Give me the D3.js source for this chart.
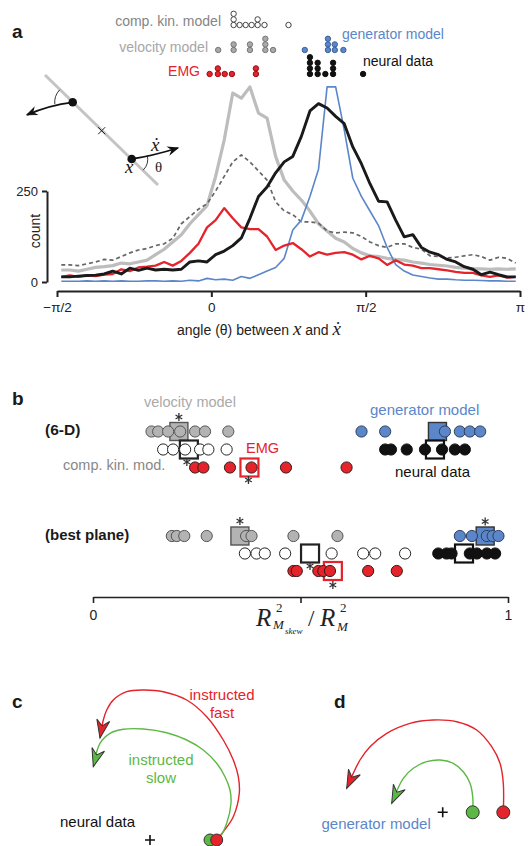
<!DOCTYPE html>
<html lang="en">
<head>
<meta charset="UTF-8">
<title>Rotational structure figure</title>
<script src="https://d3js.org/d3.v7.min.js"></script>
<style>
  body{margin:0;background:#fff;font-family:"Liberation Sans",Arial,sans-serif;}
  svg{display:block;}
</style>
</head>
<body>
<svg width="528" height="846"></svg>
<script>
// ---------------- data: panel a histogram (angle bins in degrees, counts)
const binCenters = [-87.5,-82.5,-77.5,-72.5,-67.5,-62.5,-57.5,-52.5,-47.5,-42.5,-37.5,-32.5,-27.5,-22.5,
  -17.5,-12.5,-7.5,-2.5,2.5,7.5,12.5,17.5,22.5,27.5,32.5,37.5,42.5,47.5,52.5,57.5,62.5,67.5,72.5,77.5,
  82.5,87.5,92.5,97.5,102.5,107.5,112.5,117.5,122.5,127.5,132.5,137.5,142.5,147.5,152.5,157.5,162.5,
  167.5,172.5,177.5];
const velocityCounts = [33,33,30,35,40,42,45,52,50,55,60,75,90,110,130,160,185,210,290,390,519,505,536,464,
  450,345,280,250,225,195,160,140,120,110,92,80,72,70,65,62,60,55,52,48,46,44,40,38,36,36,35,36,35,36];
const compKinCounts = [47,47,45,50,55,62,60,70,80,88,92,100,105,120,160,180,200,215,250,290,330,349,330,305,
  280,220,195,185,165,165,162,140,135,137,135,125,110,100,95,105,105,95,90,72,70,66,68,72,75,70,60,68,65,52];
const emgCounts = [14,18,14,18,16,20,22,35,30,40,42,45,55,45,58,80,105,150,170,203,175,150,145,145,125,88,
  100,107,90,70,82,75,80,82,75,62,72,65,47,60,48,45,38,38,35,32,28,25,25,18,14,18,12,14];
const neuralCounts = [14,14,16,18,19,22,30,22,38,32,38,33,35,33,35,55,58,55,75,85,100,121,175,235,261,300,
  330,345,400,470,490,478,455,435,371,325,270,222,220,170,124,130,95,82,75,62,55,42,35,20,27,20,14,14];
const generatorCounts = [2,2,2,3,2,3,2,3,2,2,3,3,2,3,2,5,3,10,6,8,5,15,10,20,30,40,65,143,170,235,310,536,
  536,418,285,235,195,155,95,48,30,19,15,11,8,8,6,5,5,4,3,3,2,2];
const angleTickValues = [-90, 0, 90, 180];
const angleTickLabels = ["\u2212\u03c0/2", "0", "\u03c0/2", "\u03c0"];
const countTicks = [0, 250];

// preferred angle of each dataset (degrees), stacked when equal
const compKinPeaks = [13,13,13,16.5,20,23.5,27,27,31,45];
const velocityPeaks = [4,13,13,22.5,22.5,31.5,31.5,31.5,36];
const emgPeaks = [-1,3.8,3.8,7.8,12,26,26];
const generatorPeaks = [54.5,68,68,68,72,72,77];
const neuralPeaks = [57.5,57.5,57.5,57.5,62,62,62,66.5,71,71,71,88.5];

// ---------------- data: panel b, R2(Mskew)/R2(M) per dataset
const vel6D = [0.141,0.157,0.181,0.210,0.246,0.270,0.326];
const ck6D = [0.169,0.193,0.222,0.258,0.278,0.322];
const emg6D = [0.246,0.266,0.330,0.382,0.465,0.611];
const gen6D = [0.647,0.704,0.848,0.884,0.908,0.933];
const neu6D = [0.704,0.718,0.756,0.800,0.841,0.872,0.896];
const velBest = [0.190,0.202,0.220,0.274,0.369,0.382,0.483,0.589];
const ckBest = [0.366,0.394,0.414,0.463,0.575,0.651,0.680,0.752];
const emgBest = [0.483,0.491,0.543,0.555,0.571,0.663,0.732];
const genBest = [0.884,0.913,0.949,0.963,0.977];
const neuBest = [0.832,0.852,0.864,0.908,0.925,0.949,0.969];
const means6D = {vel:0.207, ck:0.231, emg:0.377, gen:0.830, neu:0.824};
const meansBest = {vel:0.354, ck:0.523, emg:0.578, gen:0.945, neu:0.894};
const ratioTicks = [0, 0.5, 1];

// ---------------- data: panels c, d (state-space trajectories, y up)
const fastNeural = [[6.67,0],[7.33,0.83],[8.33,2.33],[8.93,4.67],[8.83,6.33],[8.33,8.0],[7.33,10.0],
  [5.67,12.33],[3.67,14.0],[1.33,14.83],[-0.67,15.0],[-2.33,14.83],[-3.67,14.0],[-4.33,13.0],[-4.67,12.0],[-5.0,10.2]];
const slowNeural = [[6.5,0.2],[7.0,0.33],[7.67,1.67],[8.1,3.67],[8.0,5.0],[7.5,6.33],[6.67,7.67],[5.33,9.0],
  [3.67,10.0],[1.67,10.73],[-0.67,11.1],[-2.67,11.07],[-4.0,10.67],[-5.0,9.67],[-5.67,7.33]];
const fastGen = [[6.06,0],[6.06,2.9],[5.73,4.9],[4.9,6.56],[3.4,8.23],[1.4,9.06],[-0.94,9.23],[-3.27,8.9],
  [-5.6,7.9],[-7.27,6.56],[-8.27,5.23],[-9.6,2.4]];
const slowGen = [[3.0,0],[3.0,1.56],[2.73,2.9],[2.06,4.06],[1.06,4.9],[-0.27,5.23],[-1.6,5.06],[-2.94,4.4],
  [-3.94,3.4],[-5.1,0.9]];

const RED = "#e4232b", BLUE = "#5b86c9", GREEN = "#5cb845", LGREY = "#bdbdbd", INK = "#1a1a1a";
const SANS = "'Liberation Sans', Arial, sans-serif", SERIF = "'Liberation Serif', 'Times New Roman', serif";
const svg = d3.select("svg");

function label(x, y, txt, opts = {}) {
  return svg.append("text").attr("x", x).attr("y", y).text(txt)
    .attr("font-family", opts.family || SANS).attr("font-size", opts.size || 14)
    .attr("font-weight", opts.weight || null).attr("font-style", opts.style || null)
    .attr("fill", opts.color || INK).attr("text-anchor", opts.anchor || "start");
}

// ================= panel a
label(12, 38, "a", {size: 19, weight: "bold"});

const xA = d3.scaleLinear().domain([-90, 180]).range([57, 520]);
const yA = d3.scaleLinear().domain([0, 250]).range([282, 191]);

// dot rows
function dotRow(vals, baseY, fill, stroke) {
  const pts = [];
  d3.rollups(vals, v => v.length, d => d).forEach(([a, n]) => {
    for (let k = 0; k < n; k++) pts.push({a, k});
  });
  svg.append("g").selectAll("circle").data(pts).join("circle")
    .attr("cx", d => xA(d.a)).attr("cy", d => baseY - d.k * 5.6).attr("r", 2.7)
    .attr("fill", fill).attr("stroke", stroke).attr("stroke-width", 1);
}
dotRow(compKinPeaks, 25, "#fff", "#444");
dotRow(velocityPeaks, 50, "#a9a9a9", "#777");
dotRow(emgPeaks, 74, RED, "#9a1015");
dotRow(generatorPeaks, 50, BLUE, "#3d629c");
dotRow(neuralPeaks, 74, "#111", "#111");
label(221, 25.5, "comp. kin. model", {color: "#858585", anchor: "end"});
label(208, 51.5, "velocity model", {color: "#a6a6a6", anchor: "end"});
label(200, 76, "EMG", {color: RED, anchor: "end"});
label(342, 38.5, "generator model", {color: BLUE});
label(363, 66, "neural data", {color: "#111"});

// lever diagram
const rod = [[45, 75], [158, 185]];
const massA = [72.7, 102.3], massB = [131.7, 159], pivot = [101.7, 130.7];
const gd = svg.append("g");
gd.append("line").attr("x1", rod[0][0]).attr("y1", rod[0][1]).attr("x2", rod[1][0]).attr("y2", rod[1][1])
  .attr("stroke", "#c4c4c4").attr("stroke-width", 3);
gd.append("path").attr("d", `M${pivot[0]-3.5},${pivot[1]-3.5}L${pivot[0]+3.5},${pivot[1]+3.5}M${pivot[0]+3.5},${pivot[1]-3.5}L${pivot[0]-3.5},${pivot[1]+3.5}`)
  .attr("stroke", "#222").attr("stroke-width", 1);

function head(g, from, to, L, W, fill, stroke) {
  const ang = Math.atan2(to[1] - from[1], to[0] - from[0]) * 180 / Math.PI;
  g.append("path").attr("d", `M0,0L${-L},${-W}L${-0.68 * L},0L${-L},${W}Z`)
    .attr("transform", `translate(${to[0]},${to[1]}) rotate(${ang})`)
    .attr("fill", fill).attr("stroke", stroke).attr("stroke-width", 1).attr("stroke-linejoin", "miter");
}
const arrA = {p0: massA, c: [49.5, 105], p1: [27, 114.8]};
const arrB = {p0: massB, c: [152, 156], p1: [178, 148]};
[arrA, arrB].forEach(a => {
  const p = d3.path(); p.moveTo(...a.p0); p.quadraticCurveTo(...a.c, ...a.p1);
  gd.append("path").attr("d", p.toString()).attr("fill", "none").attr("stroke", "#111").attr("stroke-width", 1.8);
  head(gd, a.c, a.p1, 9, 3.6, "#111", "#111");
});
const deg = Math.PI / 180;
const arc1 = d3.path(); arc1.arc(massA[0], massA[1], 18, 174 * deg, 224 * deg, false);
const arc2 = d3.path(); arc2.arc(massB[0], massB[1], 16, -14 * deg, 44 * deg, false);
[arc1, arc2].forEach(p => {
  gd.append("path").attr("d", p.toString()).attr("fill", "none").attr("stroke", "#222").attr("stroke-width", 0.9);
});
[massA, massB].forEach(m => gd.append("circle").attr("cx", m[0]).attr("cy", m[1]).attr("r", 4.3).attr("fill", "#111"));
label(125, 173, "x", {family: SERIF, style: "italic", size: 19});
label(151, 151, "\u1e8b", {family: SERIF, style: "italic", size: 19});
label(155, 172, "\u03b8", {family: SERIF, size: 15});

// histogram curves
const histLine = d3.line().x((d, i) => xA(binCenters[i])).y(d => yA(d));
const series = [
  {vals: velocityCounts, color: LGREY, w: 3.2},
  {vals: compKinCounts, color: "#666", w: 1.7, dash: "4,3"},
  {vals: generatorCounts, color: BLUE, w: 1.6},
  {vals: emgCounts, color: RED, w: 2.3},
  {vals: neuralCounts, color: INK, w: 2.9}
];
svg.append("g").selectAll("path").data(series).join("path")
  .attr("d", d => histLine(d.vals)).attr("fill", "none")
  .attr("stroke", d => d.color).attr("stroke-width", d => d.w)
  .attr("stroke-dasharray", d => d.dash || null).attr("stroke-linejoin", "round");

function styleAxis(g, size) {
  g.attr("font-family", SANS).attr("font-size", size);
  g.selectAll("path, line").attr("stroke", "#222").attr("stroke-width", 2);
  g.selectAll("text").attr("fill", "#222");
}
const yAxisA = svg.append("g").attr("transform", "translate(47,0)")
  .call(d3.axisLeft(yA).tickValues(countTicks).tickSizeInner(5).tickSizeOuter(0).tickPadding(4));
styleAxis(yAxisA, 13);
const xAxisA = svg.append("g").attr("transform", "translate(0,291)")
  .call(d3.axisBottom(xA).tickValues(angleTickValues).tickFormat((d, i) => angleTickLabels[i])
    .tickSizeInner(6).tickSizeOuter(0).tickPadding(5));
styleAxis(xAxisA, 13.5);
svg.append("text").attr("transform", "translate(39.5,231) rotate(-90)").attr("text-anchor", "middle")
  .attr("font-family", SANS).attr("font-size", 14).attr("fill", "#222").text("count");

const titleA = svg.append("text").attr("x", 177).attr("y", 335).attr("font-family", SANS)
  .attr("font-size", 14).attr("fill", "#222");
titleA.append("tspan").text("angle (\u03b8) between ");
titleA.append("tspan").attr("font-family", SERIF).attr("font-style", "italic").attr("font-size", 19).text("x");
titleA.append("tspan").text(" and ");
titleA.append("tspan").attr("font-family", SERIF).attr("font-style", "italic").attr("font-size", 19).text("\u1e8b");

// ================= panel b
label(12, 405, "b", {size: 19, weight: "bold"});
const xB = d3.scaleLinear().domain([0, 1]).range([93, 508]);
const groups = [
  {vals: vel6D, mean: means6D.vel, y: 431.5, fill: "#b3b3b3", stroke: "#555", sqFill: "#b3b3b3", sqStroke: "#555", star: [0, -14.5]},
  {vals: ck6D, mean: means6D.ck, y: 449.5, fill: "#fff", stroke: "#222", sqFill: "#fff", sqStroke: "#222", star: [-2, 12.5]},
  {vals: emg6D, mean: means6D.emg, y: 467.5, fill: RED, stroke: "#3a1a1a", sqFill: "#fff", sqStroke: RED, star: [-1, 12.5]},
  {vals: gen6D, mean: means6D.gen, y: 431.5, fill: BLUE, stroke: "#2e3f5c", sqFill: BLUE, sqStroke: "#333", star: null},
  {vals: neu6D, mean: means6D.neu, y: 449.5, fill: "#111", stroke: "#111", sqFill: "#fff", sqStroke: "#111", star: null},
  {vals: velBest, mean: meansBest.vel, y: 536, fill: "#b3b3b3", stroke: "#555", sqFill: "#b3b3b3", sqStroke: "#555", star: [0, -15]},
  {vals: ckBest, mean: meansBest.ck, y: 553.5, fill: "#fff", stroke: "#222", sqFill: "#fff", sqStroke: "#222", star: [0, 12.5]},
  {vals: emgBest, mean: meansBest.emg, y: 571, fill: RED, stroke: "#3a1a1a", sqFill: "#fff", sqStroke: RED, star: [0, 14]},
  {vals: genBest, mean: meansBest.gen, y: 536, fill: BLUE, stroke: "#2e3f5c", sqFill: BLUE, sqStroke: "#333", star: [0, -14.5]},
  {vals: neuBest, mean: meansBest.neu, y: 553.5, fill: "#111", stroke: "#111", sqFill: "#fff", sqStroke: "#111", star: null}
];
const gb = svg.append("g");
groups.forEach(gr => {
  gb.append("rect").attr("x", xB(gr.mean) - 9).attr("y", gr.y - 9).attr("width", 18).attr("height", 18)
    .attr("fill", gr.sqFill).attr("stroke", gr.sqStroke).attr("stroke-width", gr.sqFill === "#fff" ? 2.2 : 1.4);
});
groups.forEach(gr => {
  gb.append("g").selectAll("circle").data(gr.vals).join("circle")
    .attr("cx", d => xB(d)).attr("cy", gr.y).attr("r", 5.6)
    .attr("fill", gr.fill).attr("stroke", gr.stroke).attr("stroke-width", 1);
});
const star = d3.symbol(d3.symbolAsterisk, 42);
groups.filter(g => g.star !== null).forEach(gr => {
  gb.append("path").attr("d", star())
    .attr("transform", `translate(${xB(gr.mean) + gr.star[0]},${gr.y + gr.star[1]})`)
    .attr("fill", "none").attr("stroke", "#333").attr("stroke-width", 1.3);
});
label(144, 406.5, "velocity model", {color: "#aaa", size: 14.5});
label(45, 435, "(6-D)", {size: 15.5, weight: "bold"});
label(370, 415, "generator model", {color: BLUE, size: 15});
label(246, 453, "EMG", {color: RED, size: 14.5});
label(63, 470, "comp. kin. mod.", {color: "#888", size: 14.5});
label(395, 477, "neural data", {color: "#111", size: 15});
label(45, 540, "(best plane)", {size: 15, weight: "bold"});

const xAxisB = svg.append("g").attr("transform", "translate(0,597)")
  .call(d3.axisBottom(xB).tickValues(ratioTicks).tickFormat(d => d === 0.5 ? "" : d3.format("d")(d))
    .tickSizeInner(6).tickSizeOuter(0).tickPadding(7));
styleAxis(xAxisB, 14);
xAxisB.selectAll("path, line").attr("stroke-width", 1.6);

// R^2_{M_skew} / R^2_M
const titleB = svg.append("text").attr("font-family", SERIF).attr("font-style", "italic").attr("fill", "#222");
titleB.append("tspan").attr("x", 256).attr("y", 626).attr("font-size", 25).text("R");
titleB.append("tspan").attr("x", 276).attr("y", 612).attr("font-size", 13).attr("font-style", "normal").text("2");
titleB.append("tspan").attr("x", 273).attr("y", 629).attr("font-size", 13).text("M");
titleB.append("tspan").attr("x", 285).attr("y", 634).attr("font-size", 9).text("skew");
titleB.append("tspan").attr("x", 308).attr("y", 626).attr("font-size", 23).attr("font-style", "normal").text("/");
titleB.append("tspan").attr("x", 320).attr("y", 626).attr("font-size", 25).text("R");
titleB.append("tspan").attr("x", 340).attr("y", 612).attr("font-size", 13).attr("font-style", "normal").text("2");
titleB.append("tspan").attr("x", 337).attr("y", 631).attr("font-size", 13).text("M");

// ================= panels c, d
function trajPanel(origin, trajs, dots, dotR) {
  const xs = d3.scaleLinear().domain([0, 1]).range([origin[0], origin[0] + 10]);
  const ys = d3.scaleLinear().domain([0, 1]).range([origin[1], origin[1] - 10]);
  const g = svg.append("g");
  const ln = d3.line().x(d => xs(d[0])).y(d => ys(d[1])).curve(d3.curveCatmullRom);
  trajs.forEach(t => {
    g.append("path").attr("d", ln(t.pts)).attr("fill", "none").attr("stroke", t.color).attr("stroke-width", 1.4);
    const n = t.pts.length;
    head(g, [xs(t.pts[n - 2][0]), ys(t.pts[n - 2][1])], [xs(t.pts[n - 1][0]), ys(t.pts[n - 1][1])], 18, 6.5, t.color, "#333");
  });
  g.append("path").attr("d", `M${xs(0) - 5},${ys(0)}H${xs(0) + 5}M${xs(0)},${ys(0) - 5}V${ys(0) + 5}`)
    .attr("stroke", "#111").attr("stroke-width", 1.6);
  dots.forEach(d => g.append("circle").attr("cx", xs(d.x)).attr("cy", ys(0)).attr("r", dotR)
    .attr("fill", d.color).attr("stroke", "#333").attr("stroke-width", 1));
}
label(12, 708, "c", {size: 19, weight: "bold"});
trajPanel([150, 840], [{pts: fastNeural, color: RED}, {pts: slowNeural, color: GREEN}],
  [{x: 6.0, color: GREEN}, {x: 6.67, color: RED}], 6);
label(222, 700, "instructed", {color: RED, size: 15, anchor: "middle"});
label(222, 718, "fast", {color: RED, size: 15, anchor: "middle"});
label(161, 765, "instructed", {color: GREEN, size: 15, anchor: "middle"});
label(161, 783, "slow", {color: GREEN, size: 15, anchor: "middle"});
label(60, 826.5, "neural data", {color: "#111", size: 15});

label(334, 708, "d", {size: 19, weight: "bold"});
trajPanel([442.7, 812.3], [{pts: fastGen, color: RED}, {pts: slowGen, color: GREEN}],
  [{x: 3.0, color: GREEN}, {x: 6.06, color: RED}], 6.5);
label(321.5, 828.5, "generator model", {color: BLUE, size: 15});
</script>
</body>
</html>
